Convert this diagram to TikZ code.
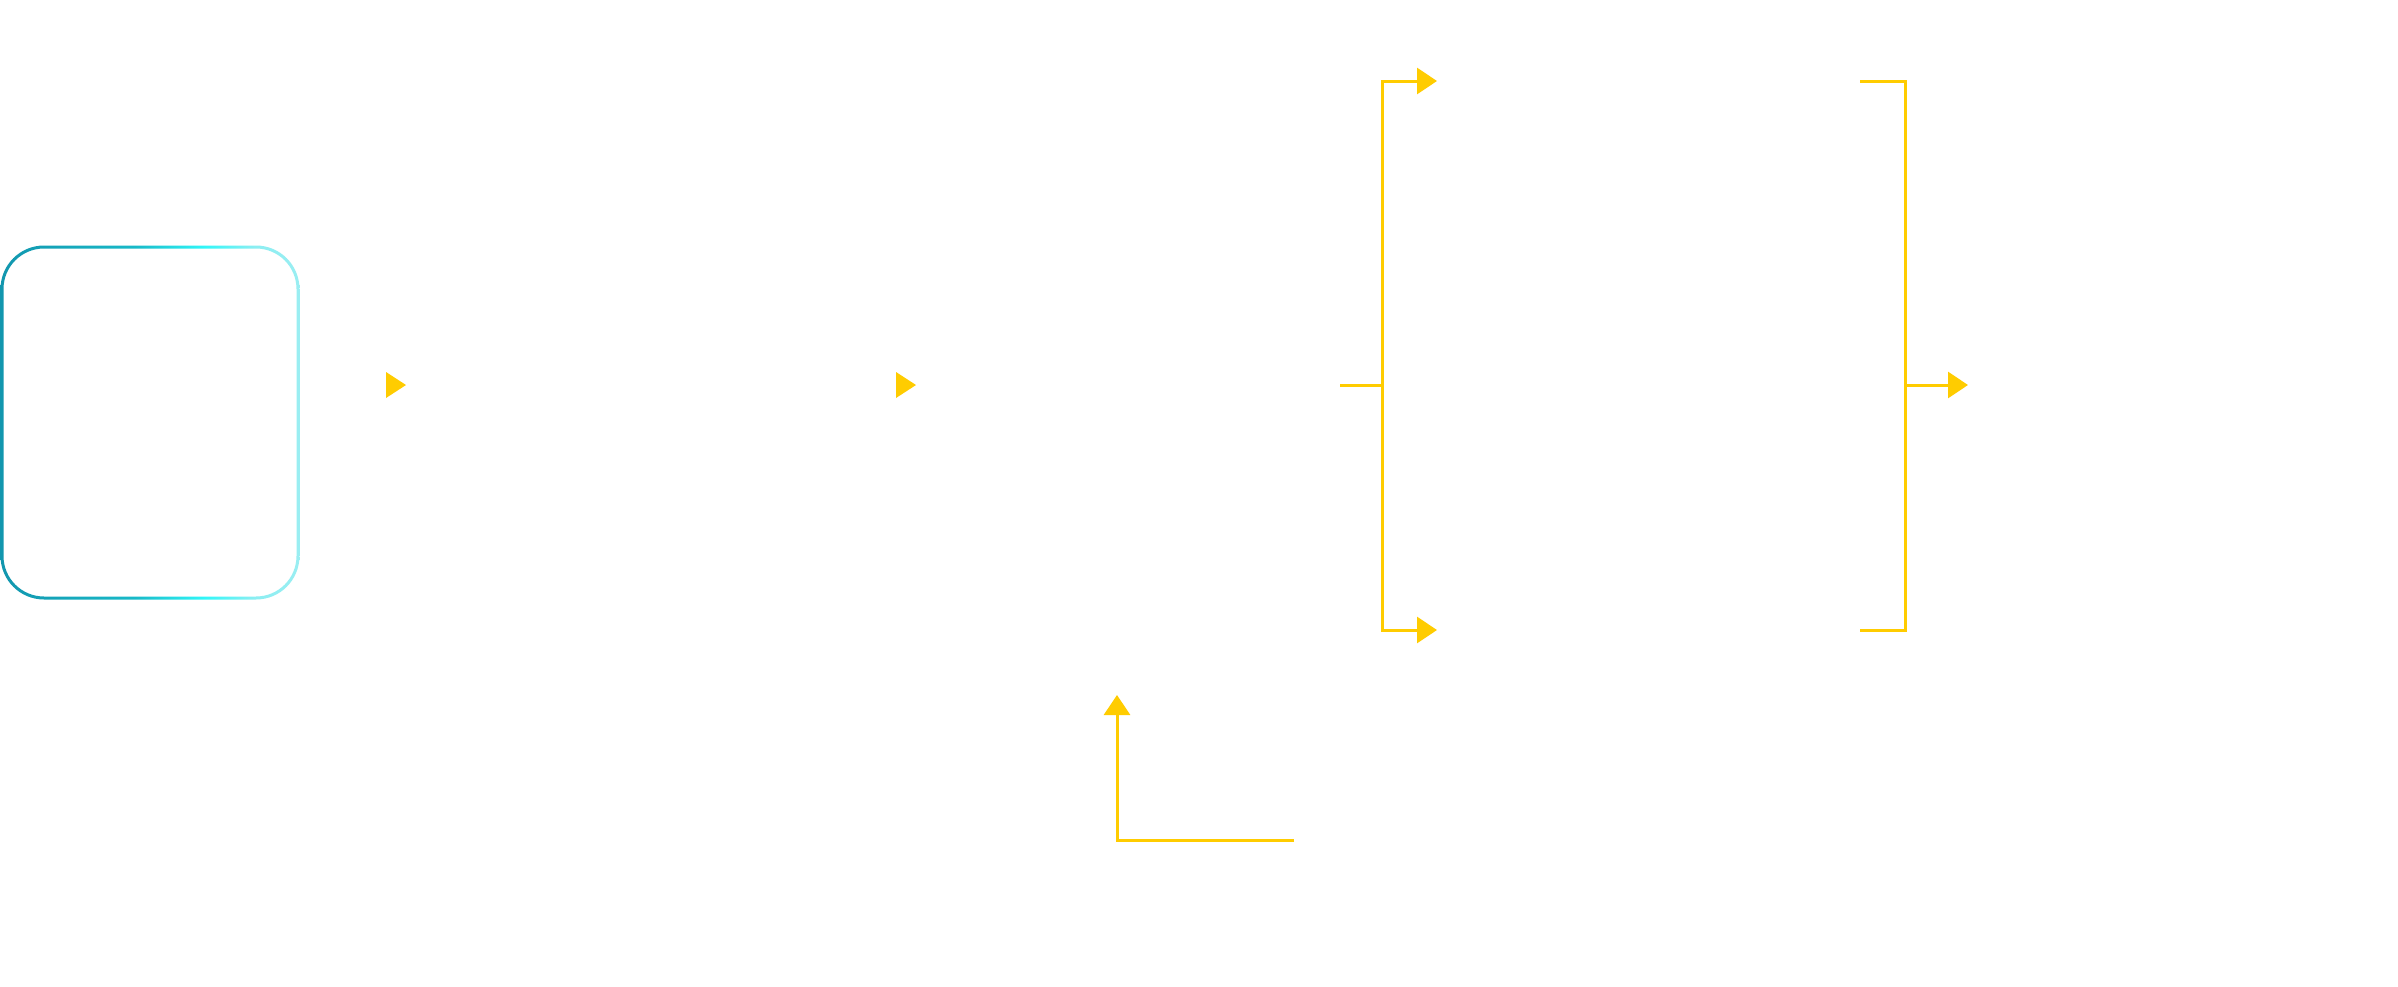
\documentclass[tikz,border=0pt]{standalone}
\usetikzlibrary{arrows.meta}
\definecolor{yel}{RGB}{255,204,0}
\definecolor{gA}{RGB}{18,150,174}
\definecolor{gB}{RGB}{24,185,200}
\definecolor{gC}{RGB}{48,246,248}
\definecolor{gD}{RGB}{140,238,242}
\definecolor{gE}{RGB}{154,238,242}
\pgfdeclarehorizontalshading{boxgrad}{100bp}{color(0bp)=(gA); color(25bp)=(gA); color(47.5bp)=(gB); color(59bp)=(gC); color(67.5bp)=(gD); color(75bp)=(gE); color(100bp)=(gE)}
\tikzset{
  yline/.style={draw=yel, line width=3pt},
  yarrow/.style={yline, -{Triangle[length=20pt,width=26pt]}},
  headfill/.style={fill=yel},
}
\begin{document}
\begin{tikzpicture}[x=1pt,y=-1pt]
\useasboundingbox[fill=white] (0,0) rectangle (2398,986);
% source box with gradient border
\node[name=src, inner sep=0pt, minimum width=296pt, minimum height=351pt] at (150,422.5) {};
\shade[shading=boxgrad, even odd rule]
  (0.5,245.5) [rounded corners=43.5pt] rectangle (299.5,599.5)
  (3.5,248.5) [rounded corners=40.5pt] rectangle (296.5,596.5);
% standalone arrow heads
\coordinate (h1) at (406,385);
\coordinate (h2) at (916,385);
\fill[headfill] (h1) -- ++(-20,-13) -- ++(0,26) -- cycle;
\fill[headfill] (h2) -- ++(-20,-13) -- ++(0,26) -- cycle;
% left bracket
\coordinate (lbin) at (1340,385);
\coordinate (lbmid) at (1382,385);
\coordinate (t1) at (1437,81);
\coordinate (t2) at (1437,630);
\draw[yline] (lbin) -- (lbmid);
\draw[yarrow] (lbmid) |- (t1);
\draw[yarrow] (lbmid) |- (t2);
% right bracket
\coordinate (rtop) at (1860,81);
\coordinate (rbot) at (1860,630);
\coordinate (rbmid) at (1905,385);
\coordinate (rout) at (1968,385);
\draw[yline] (rtop) -| (rbmid) |- (rbot);
\draw[yarrow] (rbmid) -- (rout);
% feedback arrow
\coordinate (fbstart) at (1294,840);
\coordinate (fbend) at (1117,695);
\draw[yarrow] (fbstart) -| (fbend);
\end{tikzpicture}
\end{document}
